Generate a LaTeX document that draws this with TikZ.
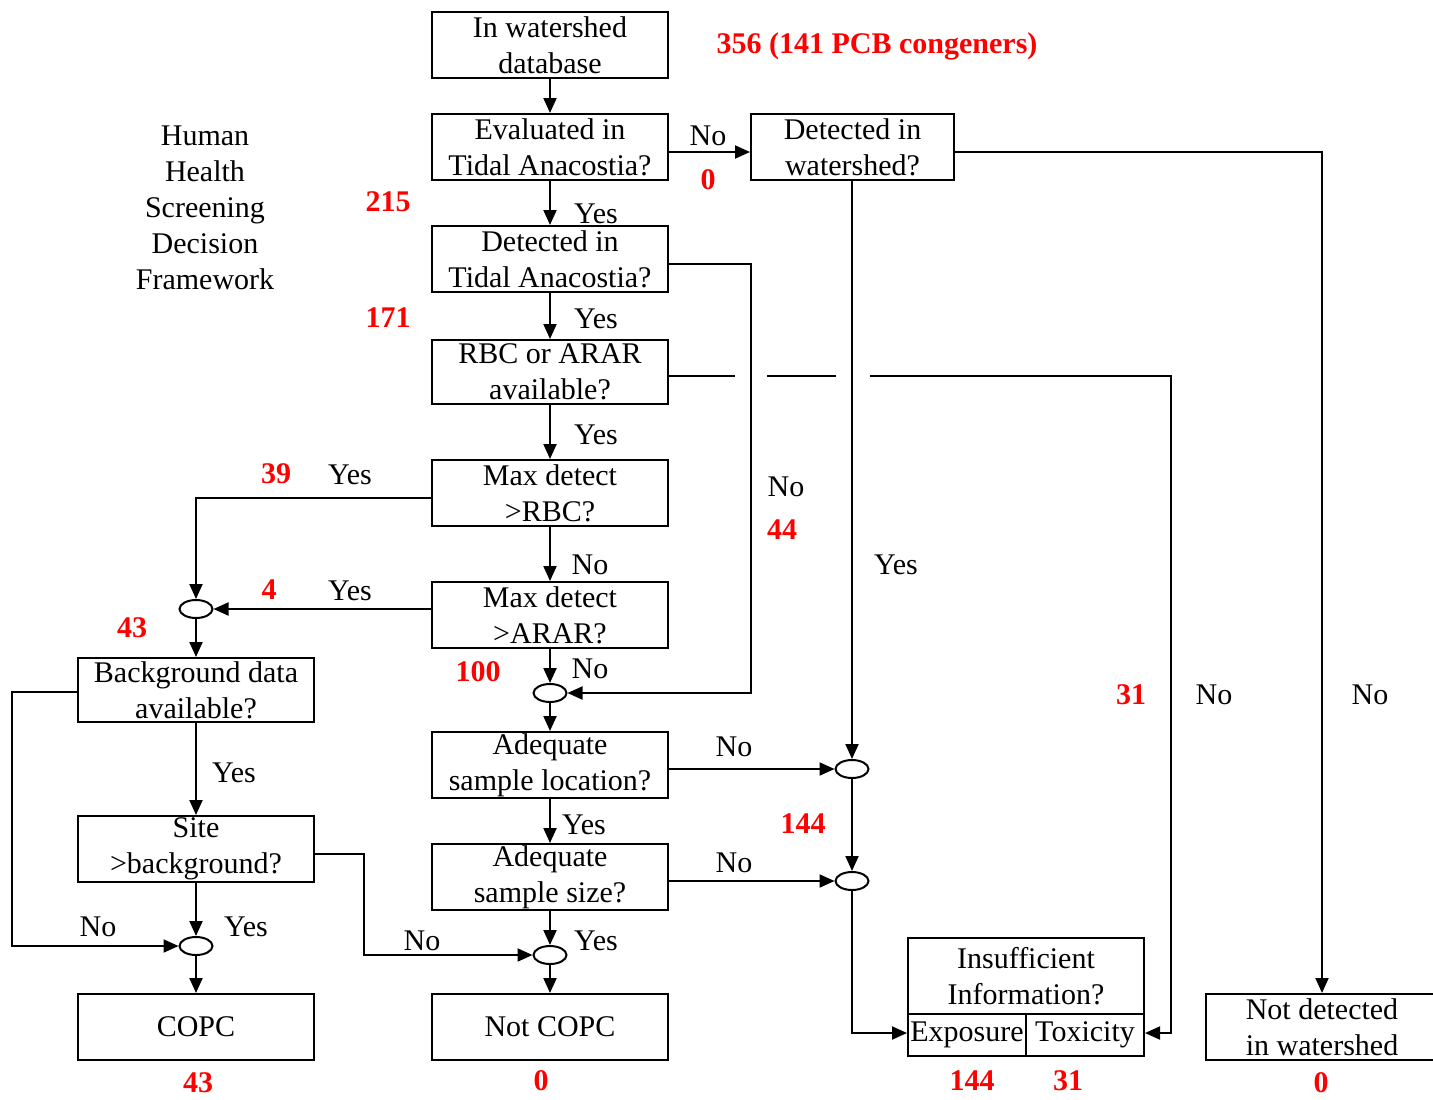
\documentclass[tikz,border=0pt]{standalone}
\usepackage{fontspec}
\setmainfont{Liberation Serif}
\usetikzlibrary{shapes.geometric,arrows.meta}
\definecolor{numred}{RGB}{255,0,0}
\begin{document}
\begin{tikzpicture}[x=0.5pt,y=-0.5pt,
  every node/.style={font=\fontsize{15pt}{18pt}\selectfont},
  box/.style={draw,line width=1pt,minimum width=118pt,minimum height=33pt,inner sep=0pt,align=center},
  junc/.style={draw,line width=1pt,ellipse,minimum width=16.5pt,minimum height=9pt,inner sep=0pt},
  lbl/.style={inner sep=0pt},
  num/.style={inner sep=0pt,text=numred,font=\fontsize{15pt}{18pt}\selectfont\bfseries},
  conn/.style={line width=1pt},
  arr/.style={line width=1pt,-{Triangle[length=7.5pt,width=6.5pt]}}]
\useasboundingbox (0,0) rectangle (1433,1099);
\clip (0,0) rectangle (1433,1099);
% boxes
\node[box] (b1) at (550,45) {In watershed\\database};
\node[box] (b2) at (550,147) {Evaluated in\\Tidal Anacostia?};
\node[box,minimum width=101.5pt] (b3) at (852.5,147) {Detected in\\watershed?};
\node[box] (b4) at (550,259) {Detected in\\Tidal Anacostia?};
\node[box,minimum height=32pt] (b5) at (550,372) {RBC or ARAR\\available?};
\node[box] (b6) at (550,493) {Max detect\\>RBC?};
\node[box] (b7) at (550,615) {Max detect\\>ARAR?};
\node[box,minimum height=32pt] (b8) at (196,690) {Background data\\available?};
\node[box] (b9) at (550,765) {Adequate\\sample location?};
\node[box] (b10) at (196,849) {Site\\>background?};
\node[box] (b11) at (550,877) {Adequate\\sample size?};
\node[box] (b12) at (196,1027) {COPC};
\node[box] (b13) at (550,1027) {Not COPC};
\node[box,minimum height=38pt] (ins) at (1026,976) {Insufficient\\Information?};
\node[box,minimum width=59pt,minimum height=21pt] (exp) at (967,1035) {Exposure};
\node[box,minimum width=59pt,minimum height=21pt] (tox) at (1085,1035) {Toxicity};
\node[box,minimum width=116pt] (ndw) at (1322,1027) {Not detected\\in watershed};
% junctions
\node[junc] (j1) at (196,609) {};
\node[junc] (j2) at (550,693) {};
\node[junc] (j3) at (852,769) {};
\node[junc] (j4) at (852,881) {};
\node[junc] (j5) at (196,946) {};
\node[junc] (j6) at (550,955) {};
% title
\node[lbl,align=center] (title) at (205,208) {Human\\Health\\Screening\\Decision\\Framework};
% connectors
\draw[arr] (b1) -- (b2);
\draw[arr] (b2.east |- 0,152) -- (b3.west |- 0,152);
\draw[arr] (b3.east |- 0,152) -| (ndw.north -| 1322,0);
\draw[arr] (b3.south -| j3) -- (j3.north);
\draw[arr] (b2) -- (b4);
\draw[arr] (b4.east |- 0,264) -| (751,693) -- (j2.east);
\draw[arr] (b4) -- (b5);
\coordinate (g1a) at (735,376);
\coordinate (g1b) at (767,376);
\coordinate (g2a) at (836,376);
\coordinate (g2b) at (870,376);
\draw[conn] (b5.east |- 0,376) -- (g1a);
\draw[conn] (g1b) -- (g2a);
\draw[arr] (g2b) -| (1171,1033) -- (tox.east |- 0,1033);
\draw[arr] (b5) -- (b6);
\draw[arr] (b6.west |- 0,498) -| (j1.north);
\draw[arr] (b6) -- (b7);
\draw[arr] (b7.west |- 0,609) -- (j1.east);
\draw[arr] (j1) -- (b8);
\draw[arr] (b7) -- (j2);
\draw[arr] (j2) -- (b9);
\draw[arr] (b9.east |- j3.west) -- (j3.west);
\draw[arr] (j3) -- (j4);
\draw[arr] (b9) -- (b11);
\draw[arr] (b11.east |- j4.west) -- (j4.west);
\draw[arr] (j4.south) |- (exp.west |- 0,1033);
\draw[arr] (b8) -- (b10);
\draw[arr] (b8.west |- 0,692) -| (12,946) -- (j5.west);
\draw[arr] (b10) -- (j5);
\draw[arr] (b10.east |- 0,854) -| (364,955) -- (j6.west);
\draw[arr] (b11) -- (j6);
\draw[arr] (j5) -- (b12);
\draw[arr] (j6) -- (b13);
% black labels
\node[lbl] (l1) at (708,136) {No};
\node[lbl] (l2) at (596,214) {Yes};
\node[lbl] (l3) at (596,319) {Yes};
\node[lbl] (l4) at (596,435) {Yes};
\node[lbl] (l5) at (350,475) {Yes};
\node[lbl] (l6) at (590,565) {No};
\node[lbl] (l7) at (350,591) {Yes};
\node[lbl] (l8) at (590,669) {No};
\node[lbl] (l9) at (786,487) {No};
\node[lbl] (l10) at (896,565) {Yes};
\node[lbl] (l11) at (1214,695) {No};
\node[lbl] (l12) at (1370,695) {No};
\node[lbl] (l13) at (734,747) {No};
\node[lbl] (l14) at (584,825) {Yes};
\node[lbl] (l15) at (734,863) {No};
\node[lbl] (l16) at (234,773) {Yes};
\node[lbl] (l17) at (98,927) {No};
\node[lbl] (l18) at (246,927) {Yes};
\node[lbl] (l19) at (422,941) {No};
\node[lbl] (l20) at (596,941) {Yes};
% red numbers
\node[num] (n0) at (877,46) {356 (141 PCB congeners)};
\node[num] (n1) at (708,180) {0};
\node[num] (n2) at (388,202) {215};
\node[num] (n3) at (388,318) {171};
\node[num] (n4) at (276,474) {39};
\node[num] (n5) at (269,590) {4};
\node[num] (n6) at (132,628) {43};
\node[num] (n7) at (478,672) {100};
\node[num] (n8) at (782,530) {44};
\node[num] (n9) at (1131,695) {31};
\node[num] (n10) at (803,824) {144};
\node[num] (n11) at (198,1083) {43};
\node[num] (n12) at (541,1081) {0};
\node[num] (n13) at (972,1081) {144};
\node[num] (n14) at (1068,1081) {31};
\node[num] (n15) at (1321,1083) {0};
\end{tikzpicture}
\end{document}
